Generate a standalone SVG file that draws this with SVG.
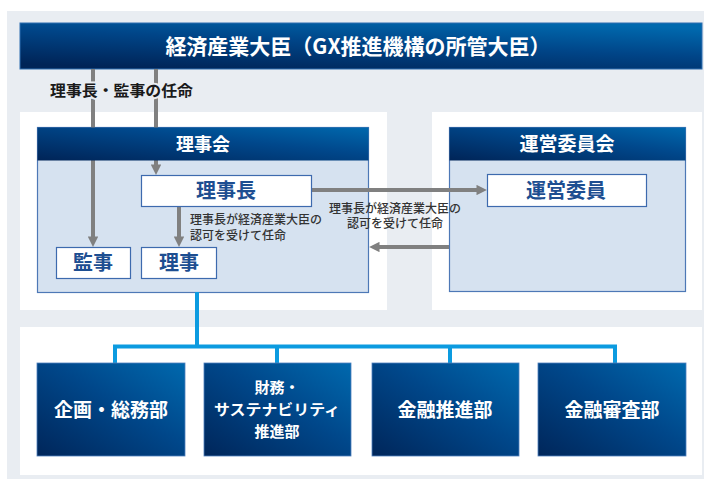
<svg xmlns="http://www.w3.org/2000/svg" width="704" height="479" viewBox="0 0 704 479">
<defs>
<linearGradient id="gTitle" x1="0.2" y1="1" x2="0.8" y2="0">
<stop offset="0" stop-color="#002457"/>
<stop offset="0.55" stop-color="#004588"/>
<stop offset="1" stop-color="#0069AE"/>
</linearGradient>
<linearGradient id="gHdr" x1="0" y1="1" x2="1" y2="0">
<stop offset="0" stop-color="#002457"/>
<stop offset="0.6" stop-color="#00488C"/>
<stop offset="1" stop-color="#0068AD"/>
</linearGradient>
<linearGradient id="gBox" x1="0" y1="1" x2="1" y2="0">
<stop offset="0" stop-color="#00265A"/>
<stop offset="0.55" stop-color="#00478A"/>
<stop offset="1" stop-color="#0069AE"/>
</linearGradient>
<marker id="ah" viewBox="0 0 10 10" refX="0.5" refY="5" markerWidth="2.6" markerHeight="2.6" orient="auto" markerUnits="strokeWidth">
<path d="M0,0 L10,5 L0,10 z" fill="#808080"/>
</marker>
<style>
.jp{font-family:"Noto Sans CJK JP","Noto Sans",sans-serif;font-weight:700;}
.wt{fill:#FFFFFF;}
.dk{fill:#1D4E91;}
.panel{fill:#FFFFFF;}
.body{fill:#D6E2F0;stroke:#4D78B6;stroke-width:1.2;}
.inner{fill:#FFFFFF;stroke:#3D6AAE;stroke-width:1.2;}
.arr{stroke:#808080;stroke-width:4;fill:none;}
.blue{stroke:#0C9BE0;stroke-width:4;fill:none;}
.small{font-family:"Noto Sans CJK JP","Noto Sans",sans-serif;font-weight:500;font-size:12px;fill:#333333;}
</style>
</defs>

<rect x="7" y="11" width="697" height="468" fill="#E9EDF2"/>
<rect class="panel" x="20" y="112" width="367" height="198"/>
<rect class="panel" x="432" y="112" width="270" height="198"/>
<rect class="panel" x="20" y="327" width="682" height="148"/>

<g id="minister">
<rect x="20" y="23" width="682" height="46" fill="url(#gTitle)" stroke="#2F6FB0" stroke-width="1"/>
<text class="jp wt" x="358" y="54" font-size="21" text-anchor="middle">経済産業大臣（GX推進機構の所管大臣）</text>
</g>

<g id="rijikai-body">
<rect class="body" x="37.5" y="127.5" width="331" height="165"/>
</g>

<g id="uneiiinkai-body">
<rect class="body" x="449.5" y="127.5" width="236" height="164"/>
</g>

<g id="connectors">
<path class="arr" d="M93,69 V237" marker-end="url(#ah)"/>
<path class="arr" d="M156,69 V165" marker-end="url(#ah)"/>
<path class="arr" d="M179,207 V237" marker-end="url(#ah)"/>
<path class="arr" d="M312,190 H477" marker-end="url(#ah)"/>
<path class="arr" d="M449,247 H379" marker-end="url(#ah)"/>
<path class="blue" d="M197,292 V346.5 M115,363 V346.5 H615 V363 M277,346.5 V363 M450,346.5 V363"/>
</g>

<g id="rijikai-header">
<rect x="37.5" y="127.5" width="331" height="33" fill="url(#gHdr)"/>
<text class="jp wt" x="203" y="150.5" font-size="18" text-anchor="middle">理事会</text>
</g>

<g id="uneiiinkai-header">
<rect x="449.5" y="127.5" width="236" height="33" fill="url(#gHdr)"/>
<text class="jp wt" x="567" y="151" font-size="19" text-anchor="middle">運営委員会</text>
</g>

<g id="label-appoint">
<text class="jp" x="50" y="96" font-size="15" fill="#1A1A1A" stroke="#E9EDF2" stroke-width="4" paint-order="stroke" textLength="143" lengthAdjust="spacingAndGlyphs">理事長・監事の任命</text>
</g>

<g id="rijicho">
<rect class="inner" x="141.5" y="175.5" width="170" height="31"/>
<text class="jp dk" x="226" y="198" font-size="20" text-anchor="middle">理事長</text>
</g>

<g id="kanji">
<rect class="inner" x="56.5" y="247.5" width="74" height="31"/>
<text class="jp dk" x="93" y="270" font-size="20" text-anchor="middle">監事</text>
</g>

<g id="riji">
<rect class="inner" x="141.5" y="247.5" width="75" height="31"/>
<text class="jp dk" x="179" y="270" font-size="20" text-anchor="middle">理事</text>
</g>

<g id="unei-iin">
<rect class="inner" x="487.5" y="174.5" width="159" height="32"/>
<text class="jp dk" x="566" y="198" font-size="20" text-anchor="middle">運営委員</text>
</g>

<g id="label-riji">
<text class="small" x="190" y="224">理事長が経済産業大臣の</text>
<text class="small" x="190" y="240">認可を受けて任命</text>
</g>

<g id="label-unei">
<text class="small" x="395" y="212.5" text-anchor="middle">理事長が経済産業大臣の</text>
<text class="small" x="395" y="228" text-anchor="middle">認可を受けて任命</text>
</g>

<g id="dept1">
<rect x="37" y="363" width="148" height="93" fill="url(#gBox)" stroke="#4F80BE" stroke-width="0.8"/>
<text class="jp wt" x="111" y="417" font-size="19" text-anchor="middle">企画・総務部</text>
</g>

<g id="dept2">
<rect x="204" y="363" width="147" height="93" fill="url(#gBox)" stroke="#4F80BE" stroke-width="0.8"/>
<text class="jp wt" x="277" y="393" font-size="15" text-anchor="middle">財務・</text>
<text class="jp wt" x="277" y="415" font-size="15" text-anchor="middle" textLength="126" lengthAdjust="spacingAndGlyphs">サステナビリティ</text>
<text class="jp wt" x="277" y="437" font-size="15" text-anchor="middle">推進部</text>
</g>

<g id="dept3">
<rect x="372" y="363" width="147" height="93" fill="url(#gBox)" stroke="#4F80BE" stroke-width="0.8"/>
<text class="jp wt" x="445" y="417" font-size="19" text-anchor="middle">金融推進部</text>
</g>

<g id="dept4">
<rect x="538" y="363" width="148" height="93" fill="url(#gBox)" stroke="#4F80BE" stroke-width="0.8"/>
<text class="jp wt" x="612" y="417" font-size="19" text-anchor="middle">金融審査部</text>
</g>
</svg>
